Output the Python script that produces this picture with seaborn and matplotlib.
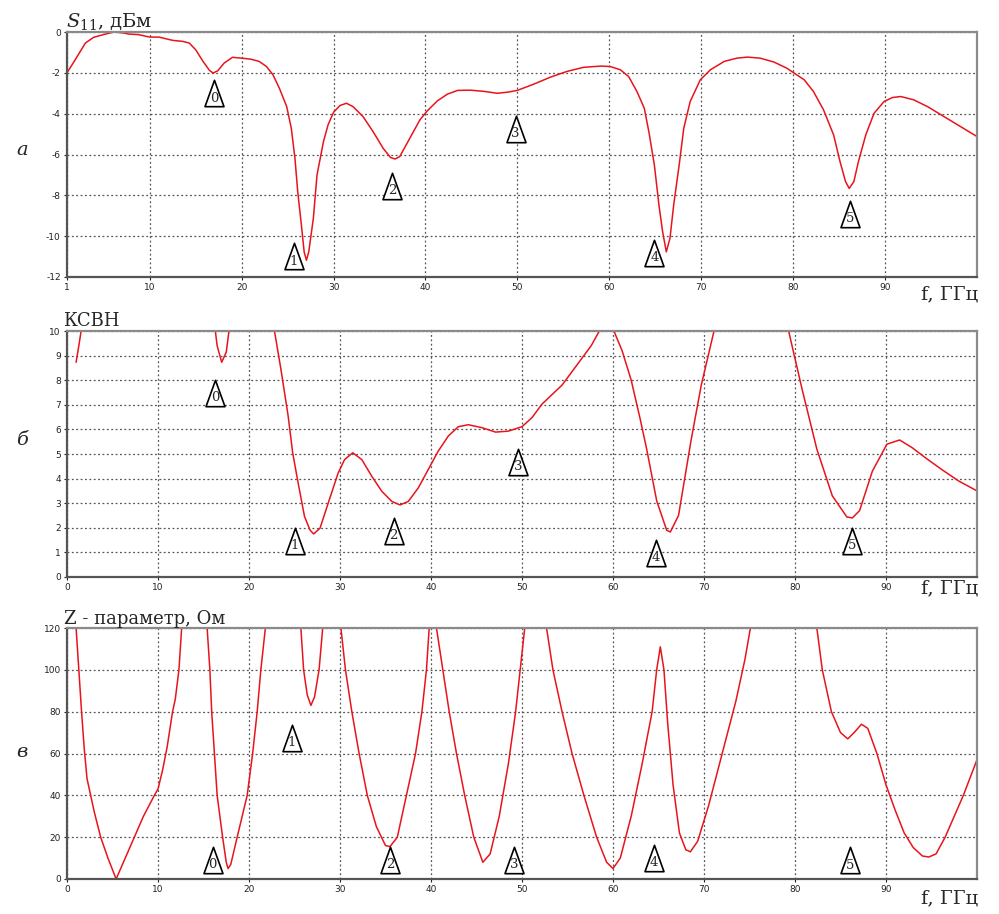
import matplotlib
matplotlib.use("Agg")
import matplotlib.pyplot as plt
import seaborn as sns
import pandas as pd
from matplotlib.path import Path

# ---------------- data ----------------
# Panel а : S11, dB
s11_f = [1.0, 2.0, 3.0, 3.9, 5.2, 6.1, 7.2, 7.7, 8.8, 10.0, 11.0, 12.5, 13.6, 14.3, 15.0,
         15.8, 16.5, 16.9, 17.4, 18.1, 19.0, 19.95, 21.0, 21.9, 22.7, 23.4, 24.1, 24.9,
         25.4, 25.8, 26.1, 26.5, 26.8, 27.05, 27.3, 27.8, 28.2, 28.9, 29.4, 30.0, 30.7,
         31.4, 32.1, 33.2, 34.3, 35.4, 36.2, 36.7, 37.2, 38.3, 39.4, 40.2, 41.3, 42.4,
         43.5, 44.9, 46.4, 47.8, 48.9, 50.0, 51.8, 53.6, 55.4, 57.2, 59.1, 60.1, 61.2,
         62.1, 63.0, 63.8, 64.3, 64.9, 65.4, 65.8, 66.2, 66.6, 67.0, 67.6, 68.1, 68.8,
         69.9, 71.0, 72.5, 73.9, 75.0, 76.4, 77.9, 79.3, 80.1, 81.2, 82.2, 83.3, 84.4,
         85.1, 85.7, 86.1, 86.6, 87.1, 87.9, 88.8, 89.9, 90.8, 91.7, 93.1, 94.6, 96.4,
         98.2, 100.0]
s11_db = [-2.0, -1.28, -0.54, -0.26, -0.1, 0.0, -0.05, -0.1, -0.13, -0.25, -0.25, -0.41,
          -0.46, -0.54, -0.87, -1.44, -1.88, -2.01, -1.9, -1.52, -1.24, -1.28, -1.33,
          -1.44, -1.69, -2.09, -2.75, -3.65, -4.71, -6.19, -7.82, -9.46, -10.77, -11.18,
          -10.77, -9.13, -7.0, -5.37, -4.55, -3.93, -3.6, -3.49, -3.65, -4.14, -4.88,
          -5.7, -6.15, -6.22, -6.1, -5.2, -4.3, -3.86, -3.37, -3.04, -2.86, -2.85, -2.91,
          -3.0, -2.95, -2.86, -2.55, -2.21, -1.93, -1.73, -1.67, -1.69, -1.85, -2.18,
          -2.91, -3.73, -4.88, -6.51, -8.48, -9.79, -10.77, -10.1, -8.48, -6.51, -4.71,
          -3.4, -2.34, -1.85, -1.44, -1.28, -1.23, -1.28, -1.47, -1.77, -2.01, -2.34,
          -2.91, -3.81, -5.04, -6.35, -7.33, -7.66, -7.33, -6.35, -5.04, -3.98, -3.4,
          -3.21, -3.16, -3.32, -3.65, -4.14, -4.63, -5.12]

# Panel б : VSWR (segments inside the visible range 0..10)
vswr_seg_f = [
    [1.0, 1.3, 1.55],
    [16.3, 16.5, 17.0, 17.5, 17.8],
    [22.8, 23.5, 24.3, 24.8, 25.4, 26.1, 26.7, 27.1, 27.8, 28.7, 29.8, 30.5, 31.4, 32.4,
     33.5, 34.6, 35.7, 36.6, 37.5, 38.6, 39.7, 40.8, 41.9, 43.0, 44.1, 45.6, 47.1, 48.5,
     50.0, 51.1, 52.2, 54.4, 56.0, 57.6, 58.5],
    [60.1, 61.0, 62.0, 63.0, 63.7, 64.8, 65.9, 66.3, 67.2, 68.6, 69.7, 71.1],
    [79.3, 80.8, 82.4, 84.1, 85.7, 86.3, 87.1, 88.5, 90.1, 91.5, 92.9, 94.5, 96.2, 98.0,
     100.0],
]
vswr_seg_v = [
    [8.73, 9.4, 10.0],
    [10.0, 9.4, 8.73, 9.14, 10.0],
    [10.0, 8.46, 6.55, 5.05, 3.82, 2.46, 1.91, 1.75, 1.98, 3.0, 4.23, 4.77, 5.05, 4.77,
     4.09, 3.48, 3.07, 2.93, 3.07, 3.62, 4.37, 5.12, 5.73, 6.11, 6.19, 6.07, 5.89, 5.93,
     6.11, 6.48, 7.03, 7.8, 8.6, 9.4, 10.0],
    [10.0, 9.2, 8.0, 6.4, 5.2, 3.1, 1.9, 1.83, 2.5, 5.6, 7.8, 10.0],
    [10.0, 7.6, 5.2, 3.3, 2.44, 2.4, 2.7, 4.3, 5.4, 5.57, 5.25, 4.8, 4.35, 3.9, 3.5],
]

# Panel в : Z-parameter, Ohm (segments inside the visible range 0..120)
z_seg_f = [
    [1.0, 1.3, 1.6, 1.9, 2.2, 2.6, 3.0, 3.7, 4.5, 5.4, 6.4, 7.4, 8.4, 9.6, 10.0, 10.5,
     11.0, 11.6, 11.9, 12.3, 12.6],
    [15.4, 15.7, 15.9, 16.2, 16.5, 17.1, 17.5, 17.7, 18.0, 18.7, 19.8, 20.4, 20.9, 21.3,
     21.8],
    [25.7, 26.0, 26.4, 26.8, 27.2, 27.7, 28.1],
    [30.1, 30.6, 31.3, 32.1, 33.0, 34.0, 35.0, 35.5, 36.3, 37.3, 38.3, 39.0, 39.5, 39.8],
    [40.6, 41.3, 42.0, 42.8, 43.7, 44.7, 45.7, 46.5, 47.5, 48.5, 49.3, 49.8, 50.3],
    [52.7, 53.4, 54.4, 55.5, 56.8, 58.2, 59.3, 60.0, 60.8, 62.0, 63.2, 64.3, 64.8, 65.2,
     65.6, 66.0, 66.6, 67.3, 68.0, 68.5, 69.3, 70.5, 72.0, 73.5, 74.5, 75.1],
    [82.4, 83.0, 84.0, 85.0, 85.8, 86.5, 87.3, 88.0, 89.0, 90.0, 91.0, 92.0, 93.0, 94.0,
     94.7, 95.5, 96.5, 97.5, 98.5, 100.0],
]
z_seg_v = [
    [120, 100, 80, 62, 48, 40, 32, 20, 10, 0, 10, 20, 30, 40, 43, 52, 63, 80, 86, 100, 120],
    [120, 100, 80, 60, 40, 20, 8, 5, 7, 20, 40, 60, 80, 100, 120],
    [120, 100, 88, 83, 87, 100, 120],
    [120, 100, 80, 60, 40, 25, 16, 15.5, 20, 40, 60, 80, 100, 120],
    [120, 100, 80, 60, 40, 20, 8, 12, 30, 55, 80, 100, 120],
    [120, 100, 80, 60, 40, 20, 8, 5, 10, 30, 55, 80, 100, 111, 100, 75, 45, 22, 14, 13,
     18, 35, 60, 85, 105, 120],
    [120, 100, 80, 70, 67, 70, 74, 72, 60, 45, 33, 22, 15, 11, 10.5, 12, 20, 30, 40, 57],
]

# Marker triangles (numbers 0..5)
mark_labels = ["0", "1", "2", "3", "4", "5"]
mark_a_f = [17.0, 25.7, 36.4, 49.8, 64.9, 86.2]
mark_a_y = [-3.01, -10.99, -7.52, -4.75, -10.8, -8.91]
mark_b_f = [16.3, 25.0, 35.9, 49.6, 64.7, 86.3]
mark_b_y = [7.5, 1.48, 1.87, 4.67, 0.98, 1.46]
mark_c_f = [16.0, 24.7, 35.5, 49.1, 64.5, 86.0]
mark_c_y = [9.3, 67.4, 9.1, 9.1, 10.0, 8.9]

xt_a = [1, 10, 20, 30, 40, 50, 60, 70, 80, 90]
xt_bc = [0, 10, 20, 30, 40, 50, 60, 70, 80, 90]
yt_a = [0, -2, -4, -6, -8, -10, -12]
yt_b = [0, 1, 2, 3, 4, 5, 6, 7, 8, 9, 10]
yt_c = [0, 20, 40, 60, 80, 100, 120]

# ---------------- style ----------------
sns.set_theme(style="white")
plt.rcParams['font.family'] = ['DejaVu Sans']
plt.rcParams['mathtext.fontset'] = 'dejavuserif'

RED = "#e8141c"
SERIF = ['DejaVu Serif']

W, H = 999, 914
fig = plt.figure(figsize=(W / 100, H / 100), dpi=100)


def fx(px):
    return px / W


def fy(py):
    return 1 - py / H


def make_ax(top, bottom):
    return fig.add_axes([fx(67), fy(bottom), fx(977) - fx(67), fy(top) - fy(bottom)])


ax_a = make_ax(32, 277)
ax_b = make_ax(331, 577)
ax_c = make_ax(628, 879)

tri = Path([(0, 1), (-0.72, -1), (0.72, -1), (0, 1)], closed=True)


def style_ax(ax, xlim, ylim, xt, yt):
    ax.set_xlim(*xlim)
    ax.set_ylim(*ylim)
    ax.set_xticks(xt)
    ax.set_yticks(yt)
    ax.set_xticklabels([str(v) for v in xt])
    ax.set_yticklabels([str(v) for v in yt])
    ax.grid(True, which='major', color='#555555', linestyle=(0, (1.5, 2.0)), linewidth=0.9)
    ax.set_axisbelow(True)
    for s in ['left', 'bottom']:
        ax.spines[s].set_color('#555555')
        ax.spines[s].set_linewidth(1.6)
    for s in ['top', 'right']:
        ax.spines[s].set_color('#8a8a8a')
        ax.spines[s].set_linewidth(1.6)
    ax.tick_params(axis='both', labelsize=6.5, colors='#222222', length=2.5, width=0.8,
                   pad=2, direction='out')
    ax.tick_params(axis='both', left=True, bottom=True)
    ax.set_xlabel("")
    ax.set_ylabel("")


def draw_marks(ax, fs, ys):
    for f, y, lab in zip(fs, ys, mark_labels):
        ax.plot([f], [y], marker=tri, markersize=19, markerfacecolor='white',
                markeredgecolor='black', markeredgewidth=1.2, linestyle='none', zorder=5,
                clip_on=False)
        ax.annotate(lab, (f, y), xytext=(0, -3.5), textcoords='offset points',
                    ha='center', va='center', fontsize=9.5, family=SERIF, zorder=6)


# Panel а
df_a = pd.DataFrame({"f": s11_f, "v": s11_db})
sns.lineplot(data=df_a, x="f", y="v", ax=ax_a, color=RED, linewidth=1.1, sort=False,
             estimator=None)
style_ax(ax_a, (1, 100), (-12, 0), xt_a, yt_a)
draw_marks(ax_a, mark_a_f, mark_a_y)

# Panel б
for sf, sv in zip(vswr_seg_f, vswr_seg_v):
    sns.lineplot(x=sf, y=sv, ax=ax_b, color=RED, linewidth=1.1, sort=False, estimator=None)
style_ax(ax_b, (0, 100), (0, 10), xt_bc, yt_b)
draw_marks(ax_b, mark_b_f, mark_b_y)

# Panel в
for sf, sv in zip(z_seg_f, z_seg_v):
    sns.lineplot(x=sf, y=sv, ax=ax_c, color=RED, linewidth=1.1, sort=False, estimator=None)
style_ax(ax_c, (0, 100), (0, 120), xt_bc, yt_c)
draw_marks(ax_c, mark_c_f, mark_c_y)

# Titles / axis captions
fig.text(fx(66), fy(27), r"$S_{11}$, дБм", fontsize=14, family=SERIF, ha='left', va='baseline')
fig.text(fx(63), fy(326), "КСВН", fontsize=13, family=SERIF, ha='left', va='baseline')
fig.text(fx(64), fy(624), "Z - параметр, Ом", fontsize=13, family=SERIF, ha='left',
         va='baseline')
for py in (299, 593, 903):
    fig.text(fx(978), fy(py), "f, ГГц", fontsize=14, family=SERIF, ha='right',
             va='baseline')
for lab, py in (("а", 155), ("б", 445), ("в", 757)):
    fig.text(fx(22), fy(py), lab, fontsize=14, family=SERIF, style='italic', ha='center',
             va='baseline')

fig.savefig("out.png", dpi=100)
